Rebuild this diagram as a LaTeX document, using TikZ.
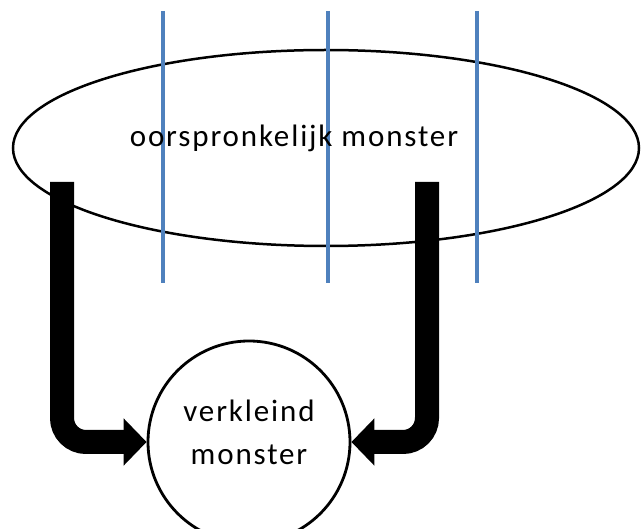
\documentclass[tikz,border=0pt]{standalone}
\usepackage{fontspec}
\setmainfont{Carlito}[LetterSpace=6]
\usetikzlibrary{arrows.meta,shapes.geometric}

\begin{document}
\begin{tikzpicture}[x=1pt,y=-1pt,
   cutline/.style={line width=4pt,color={rgb,255:red,79;green,129;blue,189}},
   bigarrow/.style={line width=24pt,rounded corners=24pt,-{Triangle[length=23pt,width=46pt]}},
   label/.style={font=\fontsize{31}{43}\selectfont,inner sep=0pt}]
\useasboundingbox (0,0) rectangle (641,529);
   \node (orig) [ellipse,draw,line width=2.5pt,minimum width=626pt,minimum height=196pt,inner sep=0pt] at (326,148) {};
\foreach \x in {163,328,477}
   \draw[cutline] (\x,11) -- (\x,283);
\node (origtext) [label,anchor=base] at (294,147) {oorspronkelijk monster};
\node (klein) [circle,draw,line width=2.8pt,minimum size=202pt,fill=white] at (249,442) {};
\node (kleintext) [label,align=center,anchor=base] at (249,465) {verkleind\\monster};
\coordinate (lstart) at (62,182);
\coordinate (rstart) at (427,182);
\draw[bigarrow] (lstart) |- (klein.west);
\draw[bigarrow] (rstart) |- (klein.east);

    \end{tikzpicture}
\end{document}
